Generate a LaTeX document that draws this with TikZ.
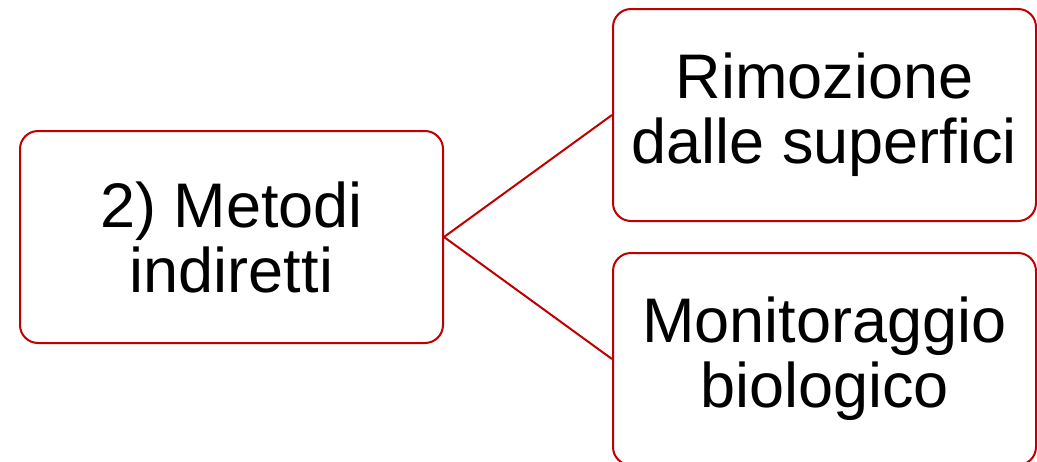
\documentclass[tikz,border=0pt]{standalone}
\usepackage{fontspec}
\setmainfont{Liberation Sans}
\definecolor{boxred}{RGB}{192,0,0}
\begin{document}
\begin{tikzpicture}[x=1pt,y=-1pt,
  box/.style={draw=boxred, line width=2pt, rounded corners=18pt, fill=white,
    minimum width=423pt, minimum height=212pt, inner sep=0pt, align=center,
    font=\fontsize{63}{65}\selectfont},
  link/.style={draw=boxred, line width=2pt}]
\useasboundingbox (0,0) rectangle (1037,461);
\node[box] (l) at (231.5,237) {2) Metodi\\indiretti};
\node[box] (t) at (824.5,115) {Rimozione\\dalle superfici};
\node[box] (b) at (824.5,359) {Monitoraggio\\biologico};
\draw[link] (l.east) -- (t.west);
\draw[link] (l.east) -- (b.west);
\end{tikzpicture}
\end{document}
